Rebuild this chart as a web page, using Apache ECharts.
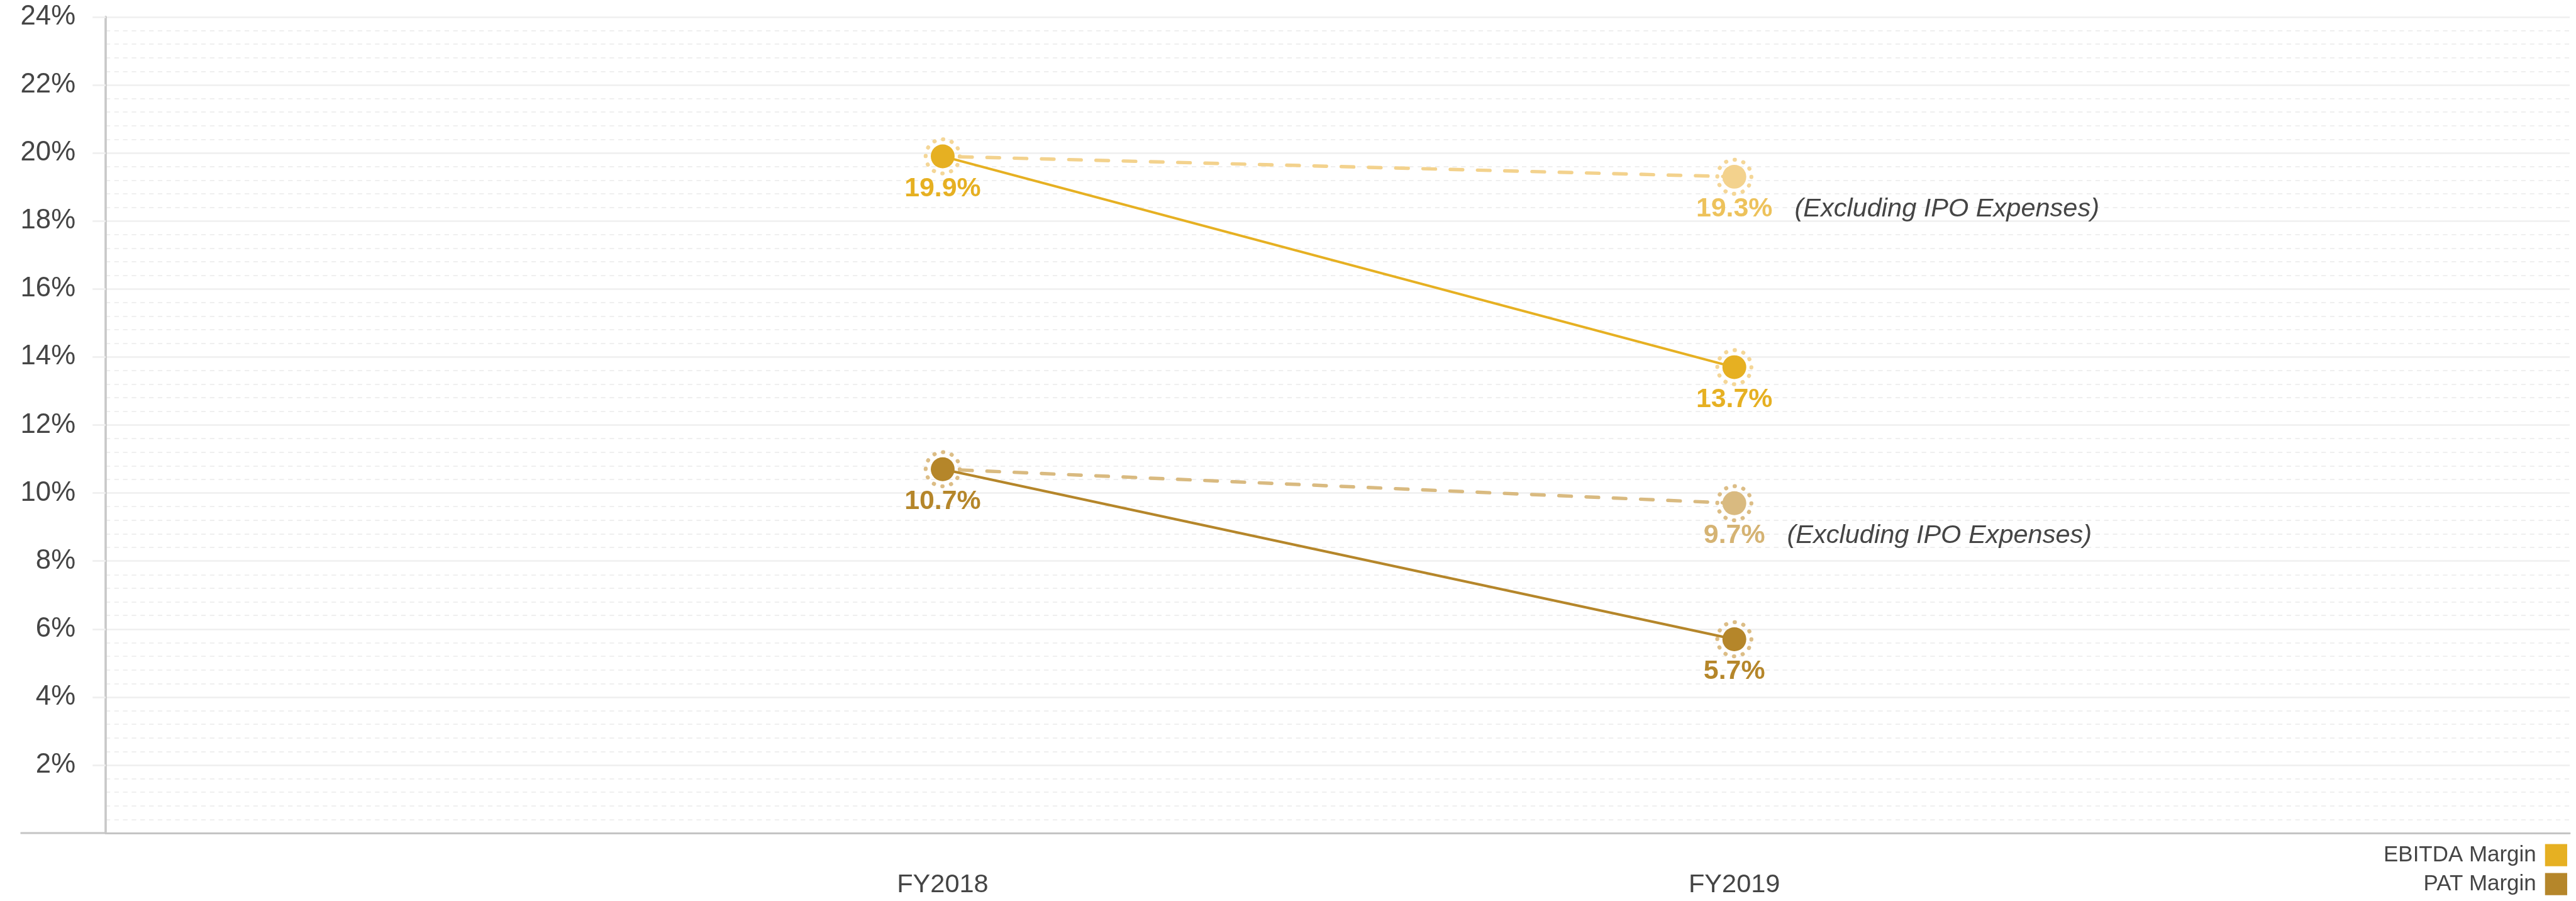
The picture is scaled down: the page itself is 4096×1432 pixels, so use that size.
<!DOCTYPE html>
<html>
<head>
<meta charset="utf-8">
<script src="https://cdn.jsdelivr.net/npm/echarts@6/dist/echarts.min.js"></script>
<style>
  html, body { margin: 0; padding: 0; background: #ffffff; }
  #chart { width: 4096px; height: 1432px; }
</style>
</head>
<body>
<div id="chart"></div>
<script>
// ---- data ----
const categories = ['FY2018', 'FY2019'];
const ebitdaMargin = [19.9, 13.7];      // reported EBITDA margin, %
const ebitdaExclIpo = [19.9, 19.3];     // EBITDA margin excluding IPO expenses, %
const patMargin = [10.7, 5.7];          // reported PAT margin, %
const patExclIpo = [10.7, 9.7];         // PAT margin excluding IPO expenses, %
const seriesNames = ['EBITDA Margin', 'PAT Margin'];
const noteText = '(Excluding IPO Expenses)';
const yMin = 0, yMax = 24, yStep = 2;

// ---- styling ----
const S = 0.903;                        // drawing scale
const FONT = '"Liberation Sans", Arial, Helvetica, sans-serif';
const TEXT = '#454545';
const C = {
  ebitda: '#E6B022', ebitdaHalo: '#F4D697', ebitdaLight: '#F3D28D', ebitdaLightLabel: '#EDC25B',
  pat: '#B5862A', patHalo: '#DCBD86', patLight: '#D9BA80', patLightLabel: '#D5B373'
};
const GRID = { left: 186 * S, right: 11 * S, top: 26.7 * S, bottom: 119.5 * S };
// x extent in category-index units
const X_MIN = -1.0574, X_MAX = 2.0553;

const MARK = 42 * S;            // marker diameter
const HALO = 60 * S;            // dotted ring diameter
const HALO_PERIOD = Math.PI * HALO / 12;
const LABEL_FS = 47.5 * S;
const NOTE_FS = 46 * S;
const NOTE_W = 560 * S, NOTE_GAP = 27 * S;

const pairs = vals => vals.map((v, i) => [i, v]);
const pct = v => v.toFixed(1) + '%';

function valueLabel(color) {
  return {
    show: true, position: 'bottom', distance: 12 * S,
    formatter: p => pct(p.value[1]),
    color: color, fontFamily: FONT, fontWeight: 'bold',
    fontSize: LABEL_FS, lineHeight: LABEL_FS
  };
}

function solidSeries(name, vals, color) {
  return {
    name: name, type: 'line', z: 4,
    data: pairs(vals),
    symbol: 'circle', symbolSize: MARK, showSymbol: true,
    itemStyle: { color: color, opacity: 1 },
    lineStyle: { color: color, width: 4.3 * S },
    label: valueLabel(color),
    emphasis: { disabled: true }, silent: true
  };
}

function exclSeries(name, vals, lineColor, labelColor) {
  const data = vals.map((v, i) => i === 0
    ? { value: [i, v], symbol: 'none', label: { show: false } }
    : { value: [i, v] });
  return {
    name: name, type: 'line', z: 3,
    data: data,
    symbol: 'circle', symbolSize: MARK, showSymbol: true,
    itemStyle: { color: lineColor, opacity: 1 },
    lineStyle: {
      color: lineColor, width: 6 * S, cap: 'round',
      type: [22 * S, 26 * S], dashOffset: 18 * S
    },
    label: {
      show: true, position: 'bottom', distance: 12 * S,
      formatter: p => '{pad| }{v|' + pct(p.value[1]) + '}{sp| }{n|' + noteText + '}',
      rich: {
        pad: { width: NOTE_W + NOTE_GAP, fontSize: LABEL_FS, lineHeight: LABEL_FS },
        v: { color: labelColor, fontFamily: FONT, fontWeight: 'bold', fontSize: LABEL_FS, lineHeight: LABEL_FS },
        sp: { width: NOTE_GAP, fontSize: LABEL_FS, lineHeight: LABEL_FS },
        n: { width: NOTE_W, align: 'left', color: TEXT, fontFamily: FONT, fontStyle: 'italic',
             fontSize: NOTE_FS, lineHeight: LABEL_FS }
      }
    },
    emphasis: { disabled: true }, silent: true
  };
}

function haloSeries(points, color) {
  return {
    type: 'scatter', z: 1, silent: true,
    data: points,
    symbol: 'circle', symbolSize: HALO,
    itemStyle: {
      color: 'rgba(0,0,0,0)', opacity: 1,
      borderColor: color, borderWidth: 7 * S, borderCap: 'round',
      borderType: [0.5, HALO_PERIOD - 0.5]
    },
    emphasis: { disabled: true }
  };
}

const chart = echarts.init(document.getElementById('chart'), null, { renderer: 'canvas' });

const option = {
  animation: false,
  backgroundColor: '#ffffff',
  grid: GRID,
  legend: {
    data: seriesNames.map(n => ({ name: n, icon: 'rect' })),
    orient: 'vertical', right: 10 * S, top: 1480 * S,
    align: 'right', selectedMode: false,
    itemWidth: 39 * S, itemHeight: 39 * S, itemGap: 12 * S,
    textStyle: { color: TEXT, fontFamily: FONT, fontSize: 38.7 * S, padding: [0, 10 * S, 0, 0] }
  },
  xAxis: {
    type: 'value', min: X_MIN, max: X_MAX,
    splitLine: { show: false },
    axisTick: { show: false },
    axisLine: { show: true, onZero: false, lineStyle: { color: '#c4c4c4', width: 3.3 * S } },
    axisLabel: {
      customValues: categories.map((c, i) => i),
      formatter: v => categories[Math.round(v)] || '',
      color: TEXT, fontFamily: FONT, fontSize: 46 * S, lineHeight: 46 * S,
      margin: 68 * S
    }
  },
  yAxis: {
    type: 'value', min: yMin, max: yMax, interval: yStep,
    axisLine: { show: true, onZero: false, lineStyle: { color: '#c8c8c8', width: 4 * S } },
    axisTick: { show: true, length: 23 * S, lineStyle: { color: '#efefef', width: 3 * S } },
    splitLine: { show: true, lineStyle: { color: '#efefef', width: 3 * S } },
    minorTick: { show: false, splitNumber: 5 },
    minorSplitLine: { show: true, lineStyle: { color: '#efefef', width: 2 * S, type: [8 * S, 7.3 * S] } },
    axisLabel: {
      showMinLabel: false,
      formatter: v => v + '%',
      color: TEXT, fontFamily: FONT, fontSize: 48.5 * S, lineHeight: 48.5 * S,
      margin: 53 * S, padding: [11 * S, 0, 0, 0]
    }
  },
  series: [
    haloSeries(pairs(ebitdaMargin).concat([[1, ebitdaExclIpo[1]]]), C.ebitdaHalo),
    haloSeries(pairs(patMargin).concat([[1, patExclIpo[1]]]), C.patHalo),
    exclSeries('EBITDA Margin (Excluding IPO Expenses)', ebitdaExclIpo, C.ebitdaLight, C.ebitdaLightLabel),
    exclSeries('PAT Margin (Excluding IPO Expenses)', patExclIpo, C.patLight, C.patLightLabel),
    solidSeries(seriesNames[0], ebitdaMargin, C.ebitda),
    solidSeries(seriesNames[1], patMargin, C.pat)
  ]
};

chart.setOption(option);

// extend the baseline to the left of the value axis
const origin = chart.convertToPixel({ gridIndex: 0 }, [X_MIN, 0]);
chart.setOption({
  graphic: [{
    type: 'line', silent: true, z: 10,
    shape: { x1: 36 * S, y1: origin[1], x2: origin[0], y2: origin[1] },
    style: { stroke: '#c4c4c4', lineWidth: 3.3 * S }
  }]
});
</script>
</body>
</html>
